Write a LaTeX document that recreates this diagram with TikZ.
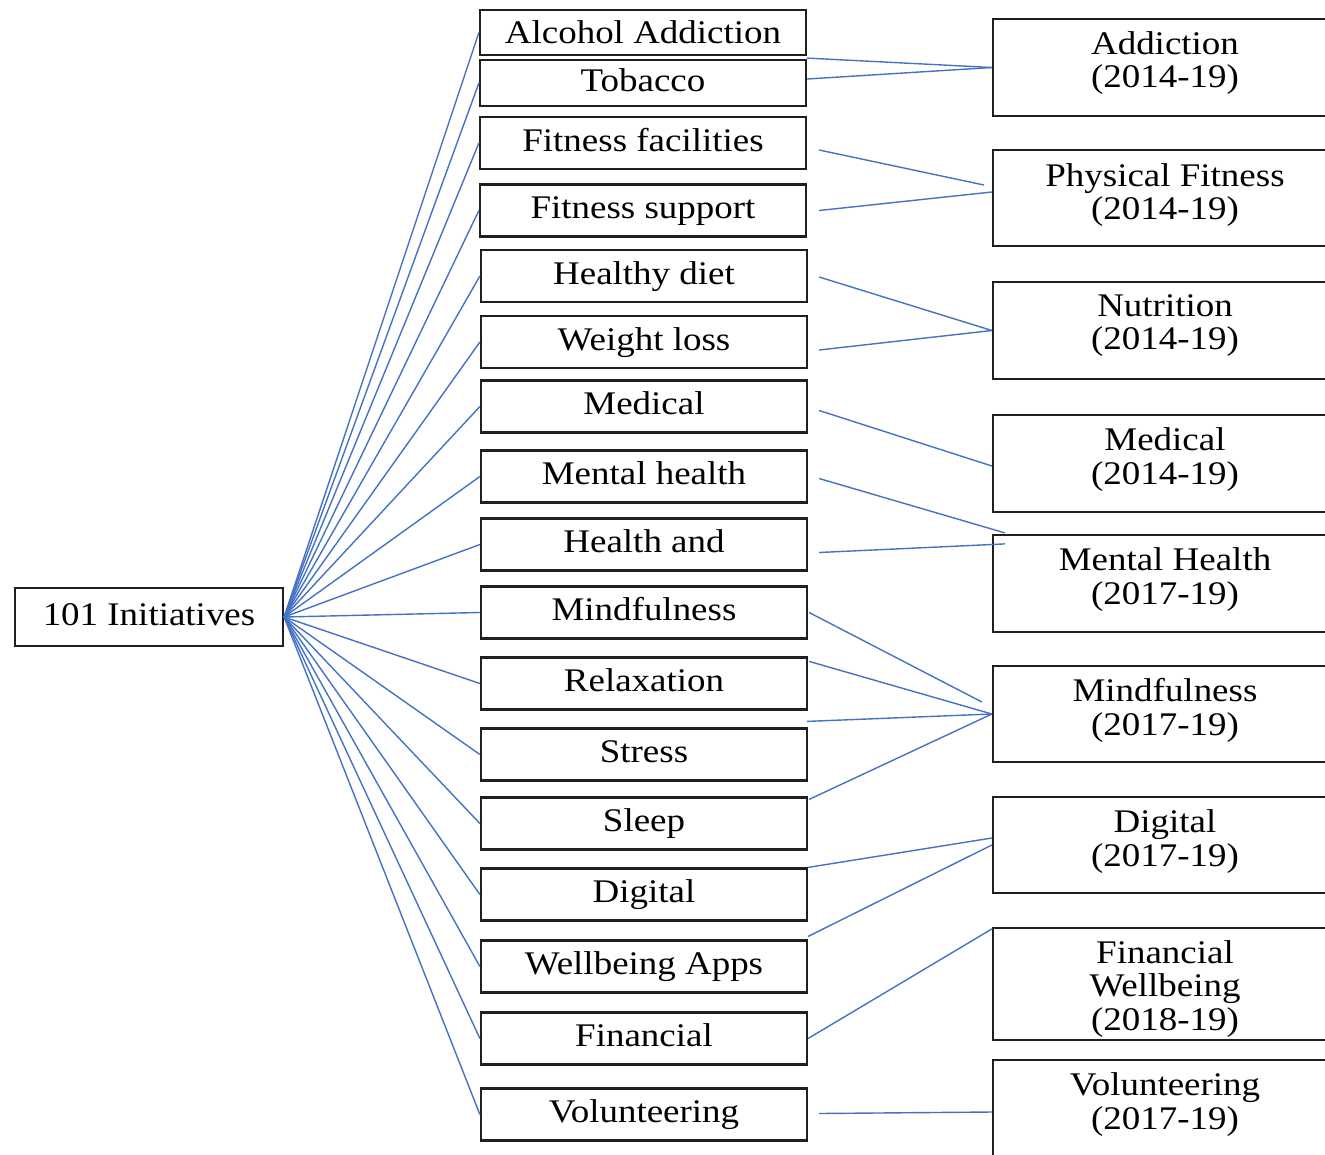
\documentclass[tikz,border=0pt]{standalone}
\usepackage{fontspec}
\setmainfont{Liberation Serif}[FakeStretch=1.12]
\usetikzlibrary{calc}
\definecolor{lnblue}{HTML}{4472C4}
\begin{document}
\begin{tikzpicture}[x=1pt,y=-1pt,
  box/.style={draw=black!88, line width=2.2pt, inner sep=0pt,
    font=\fontsize{33}{33.5}\selectfont, text height=22pt, text depth=6pt},
  mbox/.style={box, minimum width=326pt, minimum height=52pt},
  rbox/.style={box, minimum width=344pt},
  rtxt/.style={font=\fontsize{33}{33.5}\selectfont, align=center, inner sep=0pt, anchor=north},
  conn/.style={lnblue, line width=1.4pt}]
\useasboundingbox (0,0) rectangle (1325,1154);
\fill[white] (0,0) rectangle (1325,1154);

% hub
\node[box, minimum width=268pt, minimum height=58pt] (hub) at (149,617) {101 Initiatives};

% middle column
\node[mbox, minimum height=45pt, text depth=0pt] (alc) at (643,32.5) {Alcohol Addiction};
\node[mbox, minimum height=46pt] (tob) at (643,83) {Tobacco};
\node[mbox] (ff)  at (643,143)    {Fitness facilities};
\node[mbox] (fs)  at (643,210.5)  {Fitness support};
\node[mbox] (hd)  at (644,276)    {Healthy diet};
\node[mbox] (wl)  at (644,342)    {Weight loss};
\node[mbox] (med) at (644,406.5)  {Medical};
\node[mbox] (mh)  at (644,476.5)  {Mental health};
\node[mbox] (ha)  at (644,544.5)  {Health and};
\node[mbox] (mf)  at (644,612.5)  {Mindfulness};
\node[mbox] (rel) at (644,683.5)  {Relaxation};
\node[mbox] (str) at (644,754.5)  {Stress};
\node[mbox] (slp) at (644,823.5)  {Sleep};
\node[mbox] (dig) at (644,894.5)  {Digital};
\node[mbox] (wa)  at (644,966.5)  {Wellbeing Apps};
\node[mbox] (fin) at (644,1038.5) {Financial};
\node[mbox] (vol) at (644,1114.5) {Volunteering};

% right column
\node[rbox, minimum height=97pt] (add)  at (1165,67.5) {};
\node[rbox, minimum height=96pt] (pf)   at (1165,198) {};
\node[rbox, minimum height=97pt] (nut)  at (1165,330.5) {};
\node[rbox, minimum height=97pt] (medr) at (1165,463.5) {};
\node[rbox, minimum height=97pt] (mhr)  at (1165,583.5) {};
\node[rbox, minimum height=96pt] (mfr)  at (1165,714) {};
\node[rbox, minimum height=96pt] (digr) at (1165,845) {};
\node[rbox, minimum height=112pt] (finr) at (1165,984) {};
\node[rbox, minimum height=98pt] (volr) at (1165,1109) {};

\node[rtxt] (add-t)  at ($(add.north)+(0,13.5)$)  {Addiction\\(2014-19)};
\node[rtxt] (pf-t)   at ($(pf.north)+(0,14)$)    {Physical Fitness\\(2014-19)};
\node[rtxt] (nut-t)  at ($(nut.north)+(0,13.5)$)  {Nutrition\\(2014-19)};
\node[rtxt] (medr-t) at ($(medr.north)+(0,13.5)$) {Medical\\(2014-19)};
\node[rtxt] (mhr-t)  at ($(mhr.north)+(0,13.5)$)  {Mental Health\\(2017-19)};
\node[rtxt] (mfr-t)  at ($(mfr.north)+(0,13.5)$)  {Mindfulness\\(2017-19)};
\node[rtxt] (digr-t) at ($(digr.north)+(0,13.5)$) {Digital\\(2017-19)};
\node[rtxt] (finr-t) at ($(finr.north)+(0,13)$)  {Financial\\Wellbeing\\(2018-19)};
\node[rtxt] (volr-t) at ($(volr.north)+(0,13.5)$) {Volunteering\\(2017-19)};

% fan from hub
\foreach \n in {alc,tob,ff,fs,hd,wl,med,mh,ha,mf,rel,str,slp,dig,wa,fin,vol}
  \draw[conn] (hub.east) -- (\n.west);

% to categories
\draw[conn] ($(alc.south east)+(0,2)$) -- (add.west);
\draw[conn] ($(tob.east)+(0,-4)$) -- (add.west);
\draw[conn] ($(ff.east)+(12,7)$) -- ($(pf.west)+(-8,-13)$);
\draw[conn] ($(fs.east)+(12,0)$) -- ($(pf.west)+(0,-6)$);
\draw[conn] ($(hd.east)+(11,1)$) -- (nut.west);
\draw[conn] ($(wl.east)+(11,8)$) -- (nut.west);
\draw[conn] ($(med.east)+(11,4)$) -- ($(medr.west)+(0,2.5)$);
\draw[conn] ($(mh.east)+(11,2)$) -- ($(mhr.north west)+(13,-1)$);
\draw[conn] ($(ha.east)+(11,8)$) -- ($(mhr.north west)+(13,10)$);
\draw[conn] ($(mf.east)+(1,0)$) -- ($(mfr.west)+(-10,-12)$);
\draw[conn] ($(rel.north east)+(1,5)$) -- (mfr.west);
\draw[conn] ($(str.north east)+(-1,-6)$) -- (mfr.west);
\draw[conn] ($(slp.north east)+(1,3)$) -- (mfr.west);
\draw[conn] (dig.north east) -- ($(digr.west)+(0,-7)$);
\draw[conn] ($(wa.north east)+(0,-3)$) -- (digr.west);
\draw[conn] (fin.east) -- ($(finr.north west)+(0,2)$);
\draw[conn] ($(vol.east)+(11,-1)$) -- ($(volr.west)+(0,3)$);
\end{tikzpicture}
\end{document}
